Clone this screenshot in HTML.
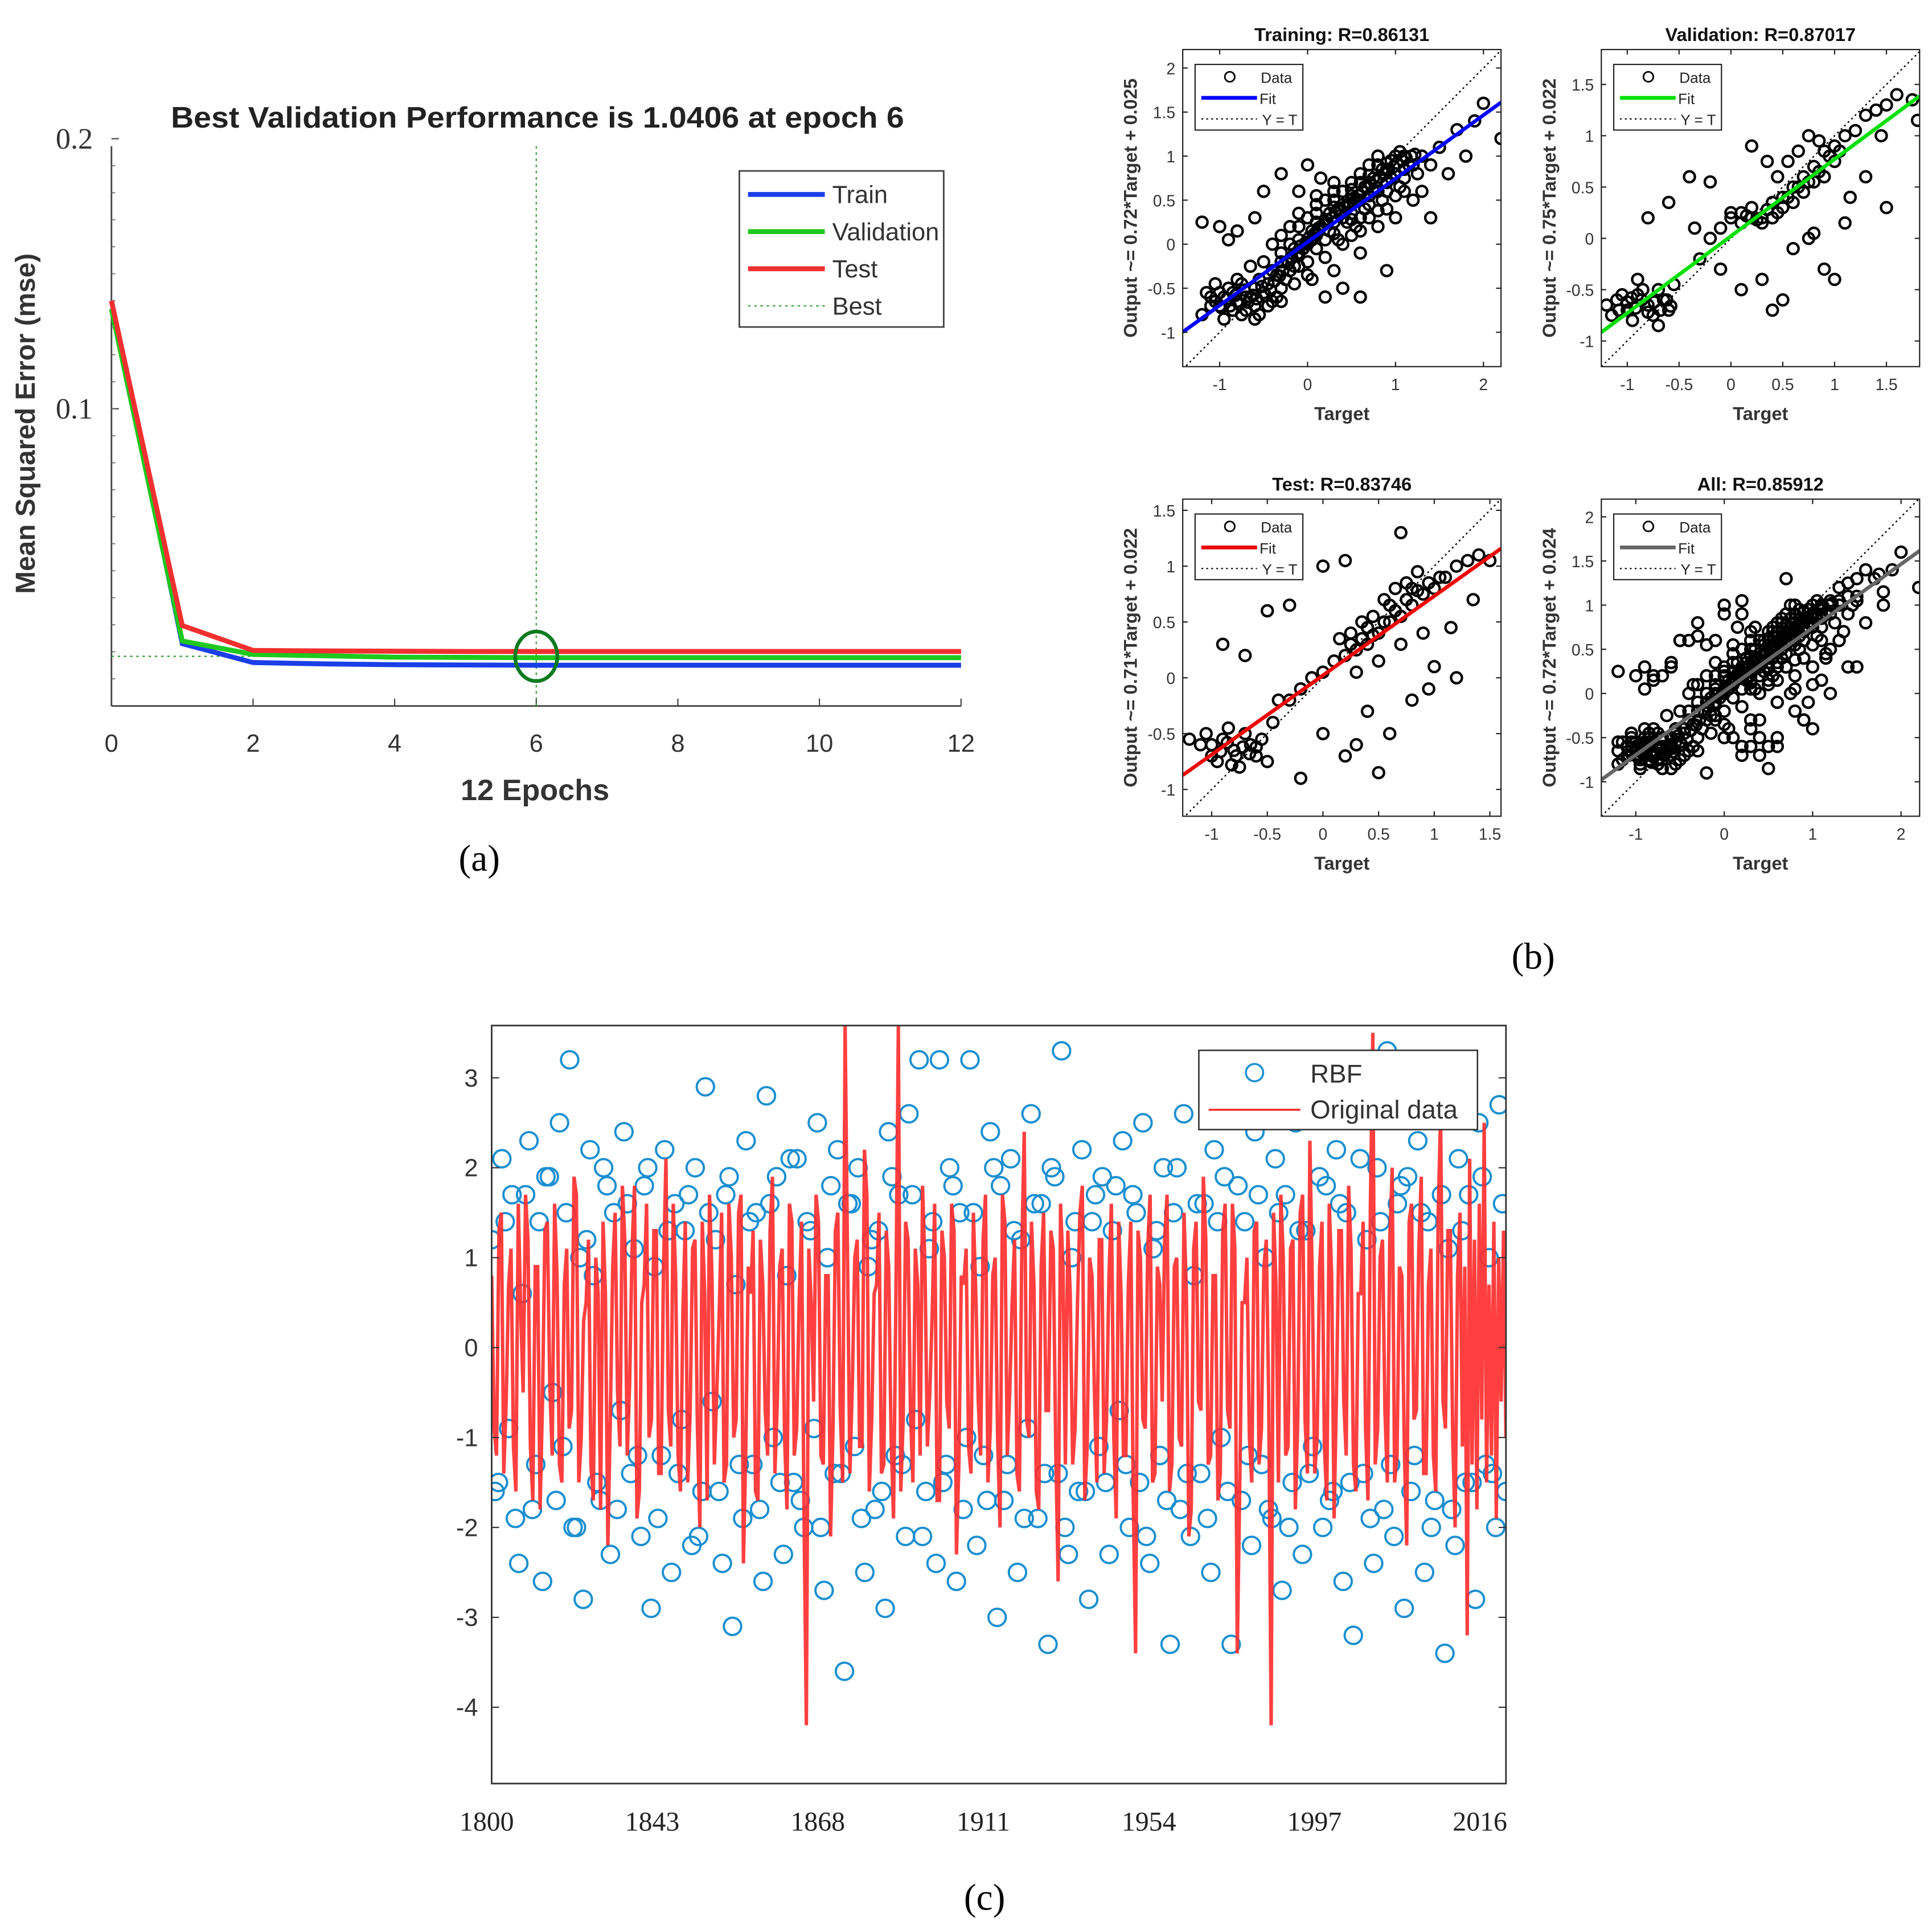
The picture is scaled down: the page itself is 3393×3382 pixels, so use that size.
<!DOCTYPE html>
<html><head><meta charset="utf-8"><style>
html,body{margin:0;padding:0;background:#fff;}
svg{display:block;}
text{font-family:"Liberation Sans",sans-serif;}
.serif{font-family:"Liberation Serif",serif;}
</style></head><body>
<svg id="root" width="3393" height="3382" viewBox="0 0 1560 1555" preserveAspectRatio="none" xmlns="http://www.w3.org/2000/svg">
<rect width="1560" height="1555" fill="#fff"/>
<g id="pa"></g>
<g id="pb"></g>
<g id="pc"></g>
<text x="387" y="703" font-size="30" text-anchor="middle" class="serif">(a)</text>
<text x="1238" y="782" font-size="30" text-anchor="middle" class="serif">(b)</text>
<text x="795" y="1542" font-size="30" text-anchor="middle" class="serif">(c)</text>
</svg>
<script>
// ---------- Panel (a) data ----------
const epochs=[0,1,2,3,4,5,6,7,8,9,10,11,12];
const trainMse=[0.14,0.013,0.006,0.0055,0.0052,0.0051,0.005,0.005,0.005,0.005,0.005,0.005,0.005];
const valMse=[0.137,0.014,0.009,0.0085,0.008,0.0079,0.0078,0.0078,0.0078,0.0078,0.0078,0.0078,0.0078];
const testMse=[0.14,0.0197,0.0105,0.0103,0.0102,0.0101,0.0101,0.0101,0.0101,0.0101,0.0101,0.0101,0.0101];
const bestEpoch=6, bestMse=0.0083;
const aXTicks=[0,2,4,6,8,10,12];
const aYTicks=[0.1,0.2];

// ---------- Panel (b) data ----------
const trainPts=[[-1.2,-0.8],[-1.1,-0.6],[-1.0,-0.7],[-0.9,-0.5],[-0.8,-0.65],[-1.05,-0.45],[-0.95,-0.85],[-0.7,-0.6],[-0.6,-0.7],[-1.15,-0.55],[-0.85,-0.75],[-0.75,-0.45],[-0.5,-0.55],[-0.4,-0.65],[-0.3,-0.5],[-1.0,0.2],[-1.2,0.25],[-0.8,0.15],[-0.6,0.3],[-0.9,0.05],
[-0.2,-0.3],[-0.1,-0.1],[0,0],[0.1,0.1],[0.2,0.05],[0.3,0.25],[0.4,0.3],[0.5,0.35],[0.6,0.5],[0.7,0.55],[0.8,0.6],[0.9,0.7],[1.0,0.8],[1.1,0.85],[1.2,0.9],[1.3,1.0],[0.0,0.3],[0.2,0.5],[0.4,0.6],[0.5,0.7],
[0.6,0.8],[0.7,0.9],[0.8,1.0],[0.3,0.7],[0.1,0.45],[-0.2,0.2],[-0.4,0.0],[-0.3,-0.2],[0.5,0.1],[0.7,0.3],[0.9,0.4],[1.1,0.6],[1.2,0.5],[1.0,0.3],[0.8,0.2],[0.6,-0.1],[0.4,-0.5],[0.2,-0.6],[0.6,-0.6],[0.9,-0.3],
[1.4,0.9],[1.5,1.1],[1.6,0.8],[1.7,1.3],[1.9,1.4],[2.0,1.6],[2.2,1.2],[1.8,1.0],[1.4,0.3],[1.3,0.6],[-0.5,0.6],[-0.3,0.8],[0.0,0.9],[-0.1,0.6],[0.15,0.75],[0.35,0.05],[0.45,0.45],[0.55,0.2],[0.65,0.65],[0.75,0.75],
[0.85,0.85],[0.95,0.95],[1.05,1.05],[0.25,0.35],[0.05,0.15],[-0.15,-0.05],[-0.35,-0.35],[-0.55,-0.4],[-0.65,-0.25],[0.3,-0.3],
[-0.95,-0.6],[-0.85,-0.55],[-0.7,-0.75],[-0.6,-0.5],[-0.45,-0.45],[-0.35,-0.6],[-0.25,-0.4],[-0.15,-0.25],[-0.05,-0.05],[0.05,0.05],[0.15,0.2],[0.25,0.15],[0.35,0.4],[0.45,0.25],[0.55,0.5],[0.65,0.4],[0.75,0.6],[0.85,0.5],[0.95,0.75],[1.05,0.65],
[1.15,0.9],[1.25,0.8],[-0.2,0.0],[-0.1,0.2],[0.1,0.35],[0.3,0.5],[0.5,0.55],[0.7,0.7],[0.9,0.85],[1.1,1.0],[-1.1,-0.7],[-1.0,-0.55],[-0.8,-0.4],[-0.65,-0.6],[-0.55,-0.8],[-0.4,-0.3],[0.0,-0.2],[0.2,0.25],[0.4,0.45],[0.6,0.3]];
const trainCore=[[-1.05,-0.65],[-0.98,-0.72],[-0.92,-0.62],[-0.88,-0.7],[-0.82,-0.58],[-0.78,-0.68],[-0.72,-0.52],[-0.68,-0.66],[-0.62,-0.58],[-0.58,-0.62],[-0.52,-0.48],[-0.48,-0.58],[-0.42,-0.52],[-0.38,-0.42],[-0.32,-0.36],[-0.28,-0.3],[-0.22,-0.22],[-0.18,-0.15],[-0.12,-0.12],[-0.08,-0.02],
[-0.02,0.02],[0.02,0.08],[0.08,0.12],[0.12,0.18],[0.18,0.22],[0.22,0.28],[0.28,0.3],[0.32,0.36],[0.38,0.38],[0.42,0.42],[0.48,0.46],[0.52,0.52],[0.58,0.55],[0.62,0.6],[0.68,0.64],[0.72,0.68],[0.78,0.72],[0.82,0.76],[0.88,0.8],[0.92,0.84],
[0.98,0.88],[1.02,0.92],[1.08,0.95],[1.12,0.98],[1.18,1.0],[1.22,1.02],[-0.3,-0.1],[-0.1,0.05],[0.1,0.25],[0.3,0.42],[0.5,0.62],[0.7,0.78],[0.9,0.92],[-0.1,-0.25],[0.1,-0.05],[0.3,0.12],[0.5,0.28],[0.7,0.45],[0.9,0.6],[1.1,0.75],
[-0.5,-0.2],[-0.3,0.1],[-0.1,0.35],[0.1,0.55],[0.3,0.6],[0.0,-0.35],[0.2,-0.15],[0.4,0.0],[0.6,0.15],[0.8,0.38],[1.0,0.55],[-0.75,-0.8],[-0.6,-0.85],[-0.45,-0.7],[-0.3,-0.65],[-0.15,-0.45],[0.05,-0.4],[0.6,0.7],[0.8,0.9],[1.0,1.0]];
const valPts=[[-1.1,-0.6],[-1.0,-0.7],[-0.9,-0.55],[-0.8,-0.65],[-0.7,-0.5],[-0.6,-0.7],[-1.2,-0.65],[-0.95,-0.8],[-0.75,-0.75],[-0.65,-0.6],[-0.85,-0.5],[-1.05,-0.55],[-0.55,-0.45],[-0.9,-0.4],[-1.15,-0.75],[-0.7,-0.85],
[-0.3,-0.2],[-0.2,0.0],[-0.1,0.1],[0,0.2],[0.1,0.25],[0.2,0.3],[0.3,0.2],[0.4,0.35],[0.5,0.4],[0.6,0.5],[0.7,0.6],[0.8,0.7],[0.9,0.85],[1.0,0.9],[1.1,1.0],[1.2,1.05],[1.3,1.2],[1.4,1.25],[1.5,1.3],[1.6,1.4],
[0.1,0.15],[0.2,0.2],[0.3,0.15],[0.0,0.25],[0.4,0.2],[0.5,0.3],[0.6,0.35],[0.7,0.45],[0.8,0.55],[0.9,0.6],[1.0,0.75],[0.45,0.6],[0.55,0.75],[0.65,0.85],[0.85,0.95],[0.75,1.0],
[-0.6,0.35],[-0.8,0.2],[-0.4,0.6],[-0.2,0.55],[0.2,0.9],[0.35,0.75],[1.15,0.4],[1.0,-0.4],[0.9,-0.3],[0.5,-0.6],[0.3,-0.4],[0.6,-0.1],[0.8,0.05],[1.3,0.6],[1.45,1.0],[1.5,0.3],[1.8,1.15],[1.75,1.35],[0.1,-0.5],[-0.1,-0.3],[0.75,0.0],[0.4,-0.7],[1.1,0.15],[-0.35,0.1],
[-1.0,-0.62],[-0.92,-0.68],[-0.86,-0.6],[-0.8,-0.72],[-0.74,-0.62],[-0.68,-0.7],[-0.62,-0.6],[-0.58,-0.66],[-1.08,-0.7],[-0.96,-0.58],[0.15,0.22],[0.25,0.18],[0.35,0.28],[0.45,0.25],[0.55,0.4],[0.65,0.5],[0.75,0.55],[0.85,0.65],[0.95,0.8],[1.05,0.85]];
const testPts=[[-1.1,-0.6],[-1.0,-0.7],[-0.9,-0.55],[-0.8,-0.65],[-0.7,-0.5],[-0.6,-0.7],[-1.2,-0.55],[-0.95,-0.75],[-0.75,-0.8],[-0.65,-0.6],[-0.85,-0.45],[-0.55,-0.55],[-0.5,-0.75],[-1.05,-0.5],[-0.45,-0.4],
[-0.3,-0.2],[-0.2,-0.1],[-0.1,0.0],[0,0.05],[0.1,0.15],[0.2,0.2],[0.3,0.25],[0.4,0.3],[0.5,0.4],[0.6,0.5],[0.7,0.55],[0.8,0.65],[0.9,0.75],[1.0,0.8],[1.1,0.9],[1.2,1.0],[1.3,1.05],[1.4,1.1],[1.5,1.05],
[0.15,0.35],[0.25,0.4],[0.35,0.5],[0.45,0.55],[0.55,0.7],[0.65,0.8],[0.75,0.85],[0.85,0.95],[0.3,0.05],[0.5,0.15],[0.7,0.3],[0.9,0.4],
[-0.9,0.3],[-0.7,0.2],[-0.5,0.6],[-0.3,0.65],[0.0,1.0],[0.2,1.05],[0.7,1.3],[0.4,-0.3],[0.6,-0.5],[0.3,-0.6],[0.8,-0.2],[1.0,0.1],[1.15,0.45],[1.2,0.0],[0.0,-0.5],[-0.2,-0.9],[0.2,-0.7],[0.5,-0.85],[0.95,-0.1],[-0.4,-0.2],[1.35,0.7],
[-1.0,-0.6],[-0.92,-0.66],[-0.86,-0.58],[-0.78,-0.7],[-0.72,-0.62],[-0.66,-0.68],[-0.6,-0.62],[-0.82,-0.78],[0.35,0.35],[0.45,0.38],[0.55,0.5],[0.65,0.6],[0.75,0.7],[0.85,0.78],[0.95,0.85],[1.05,0.9],[0.25,0.3],[0.4,0.45],[0.6,0.65],[0.8,0.8]];
const fitSlope={train:0.72,val:0.75,test:0.71,all:0.72};
const fitInt={train:0.025,val:0.022,test:0.022,all:0.024};

// ---------- Panel (c) data ----------
const origData=[0.8,-1.2,1.5,-0.6,1.1,-1.6,0.4,1.7,-1.1,0.9,-1.8,1.3,-0.4,1.6,-1.3,0.7,-0.9,1.9,-1.5,0.3,
1.2,-1.7,0.6,1.4,-2.2,0.9,-0.5,1.8,-1.2,1.1,-1.9,0.5,1.6,-0.8,1.3,-1.4,2.1,-1.1,0.8,-1.6,
1.4,-0.7,1.2,-2.0,0.6,1.7,-1.3,0.4,-1.5,1.6,-1.0,1.5,-2.4,0.9,1.3,-1.7,0.7,-1.2,1.9,-0.6,
1.1,-1.8,1.4,-0.9,1.4,-4.2,0.5,1.7,-1.2,0.8,-2.1,1.3,-0.7,3.6,-1.4,1.0,-1.1,2.2,-1.6,0.6,
1.5,-1.3,0.9,-1.9,3.6,-0.8,1.2,-1.5,0.7,1.8,-1.1,0.4,-1.7,1.3,-0.6,1.6,-2.3,0.8,1.1,-1.4,
0.6,-1.2,1.7,-0.9,1.0,-2.0,1.4,-0.5,1.2,-1.6,2.4,-1.0,0.7,-1.8,1.5,-0.7,1.1,-2.6,0.9,1.3,
-1.3,0.5,1.8,-1.1,0.8,-1.5,1.2,-0.8,1.6,-1.9,0.6,-1.2,1.4,-3.4,1.0,-0.9,1.7,-1.4,0.7,1.2,
-1.6,0.9,-1.0,1.5,-2.1,1.1,-0.6,1.9,-1.3,0.8,-1.7,1.3,-0.7,1.6,-3.4,0.5,1.0,-1.5,1.4,-0.9,
1.2,-4.2,0.7,1.7,-1.2,1.1,-1.8,1.5,-0.8,2.3,-1.4,0.9,-1.1,1.6,-1.9,1.3,-0.6,1.8,-1.3,0.6,
1.4,-1.7,3.5,-0.9,1.2,-1.5,2.0,-1.2,0.8,-2.2,1.6,-0.7,1.9,-1.4,1.1,-1.6,2.6,-0.9,1.3,-2.0,
1.5,-1.1,0.9,-3.2,2.1,-1.3,1.2,-1.8,1.6,-0.8,2.5,-1.5,0.7,-1.2,1.4,-1.9,1.0,-0.6,1.3,-1.0];
const origData2=[-0.9,1.3,-1.4,0.7,-1.1,1.6,-0.5,1.2,-1.7,0.9,-0.6,1.4,-1.2,0.8,-1.5,1.1,-0.7,1.7,-1.0,0.5,
-1.3,1.0,-1.8,0.6,-0.8,1.5,-1.1,1.2,-0.4,1.8,-1.6,0.7,-1.0,1.3,-1.4,0.9,-0.7,1.6,-1.2,0.4,
-1.5,1.1,-0.9,1.4,-1.7,0.8,-0.5,1.5,-1.3,1.0,-0.8,1.7,-1.1,0.6,-1.6,1.2,-0.7,1.3,-1.4,0.9,
-1.0,1.6,-1.2,0.5,-1.8,1.1,-0.6,1.4,-1.3,0.8,-0.9,1.5,-1.5,1.0,-0.4,1.2,-1.1,1.7,-0.8,0.7,
-1.4,1.3,-1.0,0.6,-1.6,1.4,-0.7,1.1,-1.2,0.9,-0.5,1.6,-1.7,1.0,-0.9,1.3,-1.3,0.7,-1.1,1.5,
-0.6,1.2,-1.5,0.8,-1.0,1.7,-1.2,0.5,-1.4,1.1,-0.8,1.4,-1.6,0.9,-0.7,1.3,-1.1,1.6,-1.3,0.6,
-0.9,1.5,-1.7,1.0,-0.5,1.2,-1.4,0.8,-1.0,1.4,-1.2,0.7,-1.6,1.3,-0.8,1.1,-1.5,0.9,-0.6,1.7,
-1.3,1.0,-1.1,0.6,-1.8,1.4,-0.7,1.2,-1.2,0.8,-1.4,1.6,-0.9,1.1,-1.6,0.5,-1.0,1.3,-1.3,0.9,
-0.6,1.5,-1.5,1.0,-1.1,1.2,-0.8,1.7,-1.4,0.7,-1.0,1.4,-1.7,0.8,-0.5,1.3,-1.2,1.1,-1.6,0.6,
-0.9,1.6,-1.3,1.0,-0.7,1.2,-1.5,0.9,-1.1,1.4,-0.8,1.1,-1.4,0.7,-1.2,1.5,-0.6,1.3,-1.0,0.8];
const rbfData=[1.2,-1.5,2.1,-0.9,1.7,-2.4,0.6,2.3,-1.8,1.4,-2.6,1.9,-0.5,2.5,-1.1,3.2,-2.0,1.0,-2.8,2.2,
0.8,-1.7,2.0,-2.3,1.5,-0.7,2.4,-1.4,1.1,-2.1,1.8,-2.9,0.9,-1.2,2.2,-2.5,1.6,-0.8,1.3,-2.2,
2.0,-1.6,2.9,-0.6,1.2,-2.4,1.7,-3.1,0.7,-1.9,2.3,-1.3,1.5,-2.6,2.8,-1.0,1.9,-2.3,0.8,-1.5,
2.1,-2.0,1.4,-0.9,2.5,-2.7,1.0,-1.4,2.2,-3.6,1.6,-1.1,2.0,-2.5,0.9,-1.8,1.3,-2.9,2.4,-1.2,
1.7,-2.1,2.6,-0.8,3.2,-1.6,1.1,-2.4,3.2,-1.3,2.0,-2.6,1.5,-1.0,3.2,-2.2,0.9,-1.7,2.4,-3.0,
1.8,-1.3,2.1,-2.5,1.2,-0.9,2.6,-1.9,1.6,-3.3,2.0,-1.4,3.3,-2.3,1.0,-1.6,2.2,-2.8,1.4,-1.1,
1.9,-2.3,1.3,-0.7,2.3,-2.0,1.7,-1.5,2.5,-2.4,1.1,-1.2,2.0,-3.3,1.5,-1.8,2.6,-2.1,0.8,-1.4,
1.6,-2.5,2.2,-1.0,1.9,-3.3,2.8,-1.7,1.4,-2.2,2.4,-1.3,1.0,-1.9,2.1,-2.7,1.7,-1.5,2.5,-2.3,
1.3,-1.1,2.9,-2.0,1.8,-1.6,2.2,-2.6,1.5,-3.2,2.7,-1.4,1.2,-2.4,2.0,-1.8,3.3,-2.1,1.6,-2.9,
1.9,-1.2,2.3,-2.5,1.4,-1.7,2.6,-3.4,1.1,-2.2,2.1,-1.5,1.7,-2.8,2.5,-1.3,1.0,-2.0,2.7,-1.6];
const rbfData2=[-1.6,1.4,-1.9,1.7,-1.3,1.9,-1.7,1.5,-2.0,1.2,-1.5,1.8,-1.8,1.6,-1.2,2.0,-1.9,1.3,-1.4,1.7,
-2.1,1.5,-1.6,1.9,-1.3,1.4,-1.8,1.6,-1.5,2.1,-1.7,1.3,-2.0,1.8,-1.4,1.6,-1.9,1.2,-1.6,1.9,
-1.3,1.7,-2.1,1.4,-1.5,1.8,-1.8,1.5,-1.2,2.0,-1.7,1.3,-1.9,1.6,-1.4,1.9,-2.0,1.4,-1.6,1.7,
-1.5,1.8,-1.3,1.5,-2.1,1.3,-1.7,2.0,-1.4,1.6,-1.9,1.4,-1.6,1.8,-1.2,1.7,-1.8,1.5,-2.0,1.3,
-1.4,1.9,-1.7,1.6,-1.5,2.1,-1.9,1.4,-1.3,1.8,-1.6,1.5,-2.0,1.7,-1.8,1.3,-1.5,1.9,-1.4,1.6];
const cXTicks=[1800,1843,1868,1911,1954,1997,2016];
const cYTicks=[-4,-3,-2,-1,0,1,2,3];

// ---------- helpers ----------
const NS='http://www.w3.org/2000/svg';
function mk(tag,parent,attrs){const e=document.createElementNS(NS,tag);for(const k in attrs)e.setAttribute(k,attrs[k]);parent.appendChild(e);return e;}
function txt(parent,x,y,s,size,extra){const t=mk('text',parent,Object.assign({x:x,y:y,'font-size':size},extra||{}));t.textContent=s;return t;}

// ---------- Panel (a) ----------
(function(){
const g=document.getElementById('pa');
const X0=90,X1=776,Y0=548,YS=2180;
const xs=v=>X0+(v-0)*(X1-X0)/12, ys=v=>Y0-v*YS;
let e;
e=mk('line',g,{x1:X0,y1:118,x2:X0,y2:570,stroke:'#444','stroke-width':1.3});

e=mk('line',g,{x1:X0,y1:570,x2:X1,y2:570,stroke:'#444','stroke-width':1.3});

aXTicks.forEach(v=>{mk('line',g,{x1:xs(v),y1:570,x2:xs(v),y2:564,stroke:'#444'});
 e=txt(g,xs(v),607,String(v),20,{'text-anchor':'middle',fill:'#333'});
 });
aYTicks.forEach(v=>{mk('line',g,{x1:X0,y1:ys(v),x2:X0+6,y2:ys(v),stroke:'#444'});
 e=txt(g,75,ys(v)+8,String(v),24,{'text-anchor':'end',class:'serif',fill:'#333'});
 });
for(let i=0;i<20;i++){const v=i*0.01;mk('line',g,{x1:X0,y1:ys(v),x2:X0+3,y2:ys(v),stroke:'#666','stroke-width':0.8});}
e=mk('line',g,{x1:xs(bestEpoch),y1:118,x2:xs(bestEpoch),y2:570,stroke:'#2a9a2a','stroke-width':1,'stroke-dasharray':'2,3'});

e=mk('line',g,{x1:X0,y1:ys(bestMse),x2:X1,y2:ys(bestMse),stroke:'#2a9a2a','stroke-width':1,'stroke-dasharray':'2,3'});

[[trainMse,'#1a3fe8','train-line'],[valMse,'#1ec81e','validation-line'],[testMse,'#f03030','test-line']].forEach(s=>{
 e=mk('polyline',g,{points:epochs.map((ep,i)=>xs(ep)+','+ys(s[0][i])).join(' '),fill:'none',stroke:s[1],'stroke-width':4});
 });
e=mk('ellipse',g,{cx:xs(bestEpoch),cy:ys(bestMse),rx:17,ry:20,fill:'none',stroke:'#0b7a1f','stroke-width':3});

e=txt(g,434,103,'Best Validation Performance is 1.0406 at epoch 6',24,{'text-anchor':'middle','font-weight':'bold',fill:'#222',textLength:592,lengthAdjust:'spacingAndGlyphs'});

e=txt(g,432,646,'12 Epochs',24,{'text-anchor':'middle','font-weight':'bold',fill:'#333'});

e=txt(g,0,0,'Mean Squared Error  (mse)',22,{'text-anchor':'middle','font-weight':'bold',fill:'#333',transform:'translate(28,342) rotate(-90)'});

const lg=mk('g',g,{});
mk('rect',lg,{x:597,y:138,width:165,height:126,fill:'#fff',stroke:'#444','stroke-width':1.3});
[['Train','#1a3fe8',157],['Validation','#1ec81e',187],['Test','#f03030',217]].forEach(r=>{
 mk('line',lg,{x1:604,y1:r[2],x2:666,y2:r[2],stroke:r[1],'stroke-width':4});
 e=txt(lg,672,r[2]+7,r[0],20,{fill:'#333'});});
mk('line',lg,{x1:604,y1:247,x2:666,y2:247,stroke:'#2a9a2a','stroke-width':1,'stroke-dasharray':'2,3'});
e=txt(lg,672,254,'Best',20,{fill:'#333'});
})();

// ---------- Panel (b) ----------
function regPlot(cfg){
 const g=mk('g',document.getElementById('pb'),{});
 
 
 const {L,T,R,B,x0,x1,y0,y1}=cfg;
 const xs=v=>L+(v-x0)/(x1-x0)*(R-L), ys=v=>B-(v-y0)/(y1-y0)*(B-T);
 let e;
 mk('clipPath',g,{id:'c'+cfg.name}).appendChild(document.createElementNS(NS,'rect'));
 const cr=g.querySelector('clipPath rect');cr.setAttribute('x',L);cr.setAttribute('y',T);cr.setAttribute('width',R-L);cr.setAttribute('height',B-T);
 const pg=mk('g',g,{'clip-path':'url(#c'+cfg.name+')'});
 cfg.pts.forEach(p=>{e=mk('circle',pg,{cx:xs(p[0]),cy:ys(p[1]),r:4.4,fill:'none',stroke:'#000','stroke-width':2});
  });
 e=mk('line',pg,{x1:xs(x0),y1:ys(x0),x2:xs(x1),y2:ys(x1),stroke:'#000','stroke-width':1.1,'stroke-dasharray':'1.5,2.5'});
 
 e=mk('line',pg,{x1:xs(x0),y1:ys(cfg.m*x0+cfg.b),x2:xs(x1),y2:ys(cfg.m*x1+cfg.b),stroke:cfg.col,'stroke-width':3});
 
 e=mk('rect',g,{x:L,y:T,width:R-L,height:B-T,fill:'none',stroke:'#222','stroke-width':1});
 
 cfg.xt.forEach(v=>{mk('line',g,{x1:xs(v),y1:B,x2:xs(v),y2:B-4,stroke:'#222'});mk('line',g,{x1:xs(v),y1:T,x2:xs(v),y2:T+4,stroke:'#222'});
  e=txt(g,xs(v),B+19,String(v),13,{'text-anchor':'middle',fill:'#333'});});
 cfg.yt.forEach(v=>{mk('line',g,{x1:L,y1:ys(v),x2:L+4,y2:ys(v),stroke:'#222'});mk('line',g,{x1:R,y1:ys(v),x2:R-4,y2:ys(v),stroke:'#222'});
  e=txt(g,L-6,ys(v)+5,String(v),13,{'text-anchor':'end',fill:'#333'});});
 e=txt(g,(L+R)/2,T-7,cfg.title,15,{'text-anchor':'middle','font-weight':'bold',fill:'#111'});
 
 e=txt(g,(L+R)/2,B+43,'Target',15,{'text-anchor':'middle','font-weight':'bold',fill:'#333'});
 
 e=txt(g,0,0,cfg.ylab,15,{'text-anchor':'middle','font-weight':'bold',fill:'#333',transform:'translate('+(L-37)+','+((T+B)/2)+') rotate(-90)'});
 
 const lg=mk('g',g,{});
 mk('rect',lg,{x:L+10,y:T+12,width:87,height:53,fill:'#fff',stroke:'#222','stroke-width':1});
 mk('circle',lg,{cx:L+38,cy:T+22,r:4,fill:'none',stroke:'#000','stroke-width':1.3});
 e=txt(lg,L+63,T+27,'Data',12,{fill:'#222'});
 mk('line',lg,{x1:L+15,y1:T+39,x2:L+60,y2:T+39,stroke:cfg.col,'stroke-width':3});
 e=txt(lg,L+62,T+44,'Fit',12,{fill:'#222'});
 mk('line',lg,{x1:L+15,y1:T+56,x2:L+60,y2:T+56,stroke:'#000','stroke-width':1,'stroke-dasharray':'1.5,2.5'});
 e=txt(lg,L+64,T+61,'Y = T',12,{fill:'#222'});
}
const trainAll=trainPts.concat(trainCore);
regPlot({name:'training-plot',L:955,T:40,R:1212,B:296,x0:-1.42,x1:2.2,y0:-1.39,y1:2.21,pts:trainAll,m:fitSlope.train,b:fitInt.train,col:'#0000ff',title:'Training: R=0.86131',ylab:'Output ~= 0.72*Target + 0.025',xt:[-1,0,1,2],yt:[-1,-0.5,0,0.5,1,1.5,2]});
regPlot({name:'validation-plot',L:1293,T:40,R:1550,B:296,x0:-1.25,x1:1.82,y0:-1.25,y1:1.84,pts:valPts,m:fitSlope.val,b:fitInt.val,col:'#00e000',title:'Validation: R=0.87017',ylab:'Output ~= 0.75*Target + 0.022',xt:[-1,-0.5,0,0.5,1,1.5],yt:[-1,-0.5,0,0.5,1,1.5]});
regPlot({name:'test-plot',L:955,T:403,R:1212,B:659,x0:-1.26,x1:1.6,y0:-1.24,y1:1.6,pts:testPts,m:fitSlope.test,b:fitInt.test,col:'#ee0000',title:'Test: R=0.83746',ylab:'Output ~= 0.71*Target + 0.022',xt:[-1,-0.5,0,0.5,1,1.5],yt:[-1,-0.5,0,0.5,1,1.5]});
regPlot({name:'all-plot',L:1293,T:403,R:1550,B:659,x0:-1.39,x1:2.21,y0:-1.39,y1:2.2,pts:trainAll.concat(valPts,testPts),m:fitSlope.all,b:fitInt.all,col:'#666666',title:'All: R=0.85912',ylab:'Output ~= 0.72*Target + 0.024',xt:[-1,0,1,2],yt:[-1,-0.5,0,0.5,1,1.5,2]});

// ---------- Panel (c) ----------
(function(){
const g=document.getElementById('pc');
const L=397,T=828,R=1216,B=1440;
const xs=yr=>L+(yr-1800)/216*(R-L), ys=v=>1088-v*72.6;
let e;
mk('clipPath',g,{id:'cc'}).appendChild(document.createElementNS(NS,'rect'));
const cr=g.querySelector('#cc rect');cr.setAttribute('x',L);cr.setAttribute('y',T);cr.setAttribute('width',R-L);cr.setAttribute('height',B-T);
const pg=mk('g',g,{'clip-path':'url(#cc)'});
const rbfAll=[];rbfData.forEach((v,i)=>{rbfAll.push(v);if(i<rbfData2.length*2&&i%2===0)rbfAll.push(rbfData2[i/2]);});
rbfAll.forEach((v,i)=>{e=mk('circle',pg,{cx:xs(1800+i*216/(rbfAll.length-1)),cy:ys(v),r:7,fill:'none',stroke:'#1a8fd0','stroke-width':1.8});
 });
const origAll=[];origData.forEach((v,i)=>{origAll.push(v);if(i<origData2.length)origAll.push(origData2[i]);});
e=mk('polyline',pg,{points:origAll.map((v,i)=>xs(1800+i*216/(origAll.length-1))+','+ys(v)).join(' '),fill:'none',stroke:'#ff2a2a','stroke-width':2.8,'stroke-opacity':0.9});

e=mk('rect',g,{x:L,y:T,width:R-L,height:B-T,fill:'none',stroke:'#333','stroke-width':1.3});

cXTicks.forEach((v,i)=>{e=txt(g,393+i*(1195-393)/(cXTicks.length-1),1478,String(v),22,{'text-anchor':'middle',class:'serif',fill:'#222'});});
cYTicks.forEach(v=>{mk('line',g,{x1:L,y1:ys(v),x2:L+6,y2:ys(v),stroke:'#333'});mk('line',g,{x1:R,y1:ys(v),x2:R-6,y2:ys(v),stroke:'#333'});
 e=txt(g,386,ys(v)+7,String(v),20,{'text-anchor':'end',fill:'#333'});});
const lg=mk('g',g,{});
mk('rect',lg,{x:968,y:848,width:225,height:64,fill:'#fff',stroke:'#333','stroke-width':1.2});
mk('circle',lg,{cx:1013,cy:866,r:7,fill:'none',stroke:'#1a8fd0','stroke-width':1.6});
e=txt(lg,1058,874,'RBF',21,{fill:'#333'});
mk('line',lg,{x1:976,y1:896,x2:1050,y2:896,stroke:'#ff2a2a','stroke-width':1.6});
e=txt(lg,1058,903,'Original data',21,{fill:'#333'});
})();
</script>
</body></html>
